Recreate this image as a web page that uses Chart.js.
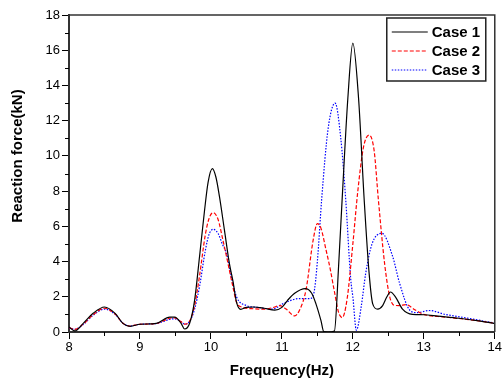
<!DOCTYPE html>
<html>
<head>
<meta charset="utf-8">
<script src="https://cdn.jsdelivr.net/npm/chart.js@4/dist/chart.umd.min.js"></script>
<style>
  html, body { margin: 0; padding: 0; background: #fff; }
  #wrap { width: 503px; height: 381px; }
</style>
</head>
<body>
<div id="wrap"><canvas id="forceChart" width="503" height="381"></canvas></div>
<script>
// frequency response of the reaction force, three load cases
const caseLabels = ['Case 1', 'Case 2', 'Case 3'];
const xTicks = [8, 9, 10, 11, 12, 13, 14];
const yTicks = [0, 2, 4, 6, 8, 10, 12, 14, 16, 18];

const case1Freq = [8.0, 8.08, 8.2, 8.34, 8.5, 8.65, 8.76, 8.86, 9.0, 9.23, 9.42, 9.49, 9.58, 9.63, 9.7, 9.77, 9.84, 9.91, 9.96, 10.02, 10.07, 10.12, 10.19, 10.26, 10.31, 10.36, 10.42, 10.5, 10.6, 10.75, 10.9, 11.0, 11.08, 11.18, 11.33, 11.42, 11.48, 11.55, 11.59, 11.65, 11.74, 11.8, 11.85, 11.93, 12.0, 12.08, 12.16, 12.23, 12.28, 12.35, 12.42, 12.48, 12.53, 12.6, 12.7, 12.84, 13.0, 13.2, 13.5, 13.8, 14.0];
const case1Force = [0.28, 0.06, 0.49, 1.06, 1.42, 1.06, 0.49, 0.32, 0.44, 0.49, 0.85, 0.85, 0.49, 0.17, 0.5, 1.8, 4.3, 6.9, 8.5, 9.28, 8.8, 7.7, 5.8, 3.9, 2.9, 1.7, 1.29, 1.4, 1.42, 1.35, 1.24, 1.4, 1.8, 2.2, 2.46, 2.2, 1.6, 0.66, 0.02, 0, 0.05, 3.8, 7.6, 13.3, 16.4, 13.3, 7.5, 3.3, 1.6, 1.3, 1.5, 2.0, 2.27, 2.0, 1.3, 1.0, 0.98, 0.9, 0.78, 0.62, 0.48];

const case2Freq = [8.0, 8.08, 8.2, 8.34, 8.5, 8.65, 8.76, 8.86, 9.0, 9.23, 9.42, 9.49, 9.58, 9.63, 9.7, 9.77, 9.84, 9.92, 9.97, 10.03, 10.1, 10.17, 10.24, 10.31, 10.36, 10.45, 10.6, 10.75, 10.87, 10.97, 11.06, 11.18, 11.25, 11.34, 11.44, 11.5, 11.55, 11.62, 11.68, 11.74, 11.8, 11.85, 11.92, 12.0, 12.07, 12.15, 12.23, 12.3, 12.36, 12.45, 12.52, 12.58, 12.65, 12.75, 12.88, 13.0, 13.3, 13.6, 14.0];
const case2Force = [0.25, 0.15, 0.45, 0.98, 1.35, 1.02, 0.5, 0.34, 0.44, 0.48, 0.78, 0.8, 0.58, 0.45, 0.62, 1.5, 3.2, 5.5, 6.4, 6.78, 6.4, 5.2, 3.9, 2.56, 1.7, 1.4, 1.32, 1.3, 1.38, 1.5, 1.3, 0.92, 1.25, 2.4, 5.2, 6.15, 5.9, 4.7, 3.6, 2.3, 1.1, 0.82, 1.9, 5.0, 8.0, 10.5, 11.18, 10.3, 7.5, 3.8, 2.0, 1.52, 1.5, 1.55, 1.25, 1.0, 0.85, 0.72, 0.5];

const case3Freq = [8.0, 8.08, 8.2, 8.34, 8.5, 8.65, 8.76, 8.86, 9.0, 9.23, 9.42, 9.49, 9.58, 9.63, 9.7, 9.77, 9.84, 9.92, 9.97, 10.03, 10.1, 10.16, 10.22, 10.29, 10.36, 10.5, 10.65, 10.87, 11.01, 11.25, 11.39, 11.45, 11.5, 11.56, 11.65, 11.75, 11.83, 11.9, 11.97, 12.0, 12.05, 12.12, 12.18, 12.27, 12.41, 12.56, 12.66, 12.8, 12.9, 13.08, 13.3, 13.6, 14.0];
const case3Force = [0.25, 0.15, 0.42, 0.95, 1.3, 1.0, 0.5, 0.34, 0.44, 0.48, 0.72, 0.75, 0.58, 0.45, 0.6, 1.3, 2.6, 4.6, 5.5, 5.83, 5.6, 5.0, 4.45, 3.1, 2.0, 1.5, 1.4, 1.3, 1.6, 1.9, 1.9, 2.2, 4.0, 7.5, 11.5, 13.0, 11.0, 7.5, 3.0, 2.0, 0.1, 1.5, 3.3, 5.0, 5.6, 4.3, 2.75, 1.25, 1.1, 1.22, 1.0, 0.8, 0.5];

const lineColors = ['#000000', '#ff0000', '#0000ff'];
const lineDashes = [[], [4, 2], [1.5, 1.5]];

const FONT = 'Arial, "Liberation Sans", sans-serif';

function toPoints(xs, ys) {
  return xs.map((x, i) => ({ x: x, y: ys[i] }));
}

const seriesX = [case1Freq, case2Freq, case3Freq];
const seriesY = [case1Force, case2Force, case3Force];

const datasets = caseLabels.map((label, i) => ({
  label: label,
  data: toPoints(seriesX[i], seriesY[i]),
  borderColor: lineColors[i],
  borderDash: lineDashes[i],
  borderWidth: 1.2,
  pointRadius: 0,
  fill: false,
  cubicInterpolationMode: 'monotone'
}));

// short minor ticks, frame, y title and boxed legend
const decorations = {
  id: 'decorations',
  afterDraw(chart) {
    const ctx = chart.ctx;
    const area = chart.chartArea;
    const xs = chart.scales.x;
    const ys = chart.scales.y;
    ctx.save();

    // minor ticks
    ctx.strokeStyle = '#000';
    ctx.lineWidth = 1;
    ctx.beginPath();
    for (let i = 0; i < xTicks.length - 1; i++) {
      const px = Math.round(xs.getPixelForValue(xTicks[i] + 0.5)) + 0.5;
      ctx.moveTo(px, area.bottom);
      ctx.lineTo(px, area.bottom + 4);
    }
    for (let i = 0; i < yTicks.length - 1; i++) {
      const py = Math.round(ys.getPixelForValue(yTicks[i] + 1)) + 0.5;
      ctx.moveTo(area.left - 4, py);
      ctx.lineTo(area.left, py);
    }
    ctx.stroke();

    // top and right frame lines
    ctx.strokeStyle = '#333';
    ctx.lineWidth = 1.5;
    ctx.beginPath();
    ctx.moveTo(area.left, area.top);
    ctx.lineTo(area.right, area.top);
    ctx.lineTo(area.right, area.bottom);
    ctx.stroke();

    // y axis title
    ctx.fillStyle = '#000';
    ctx.font = 'bold 15px ' + FONT;
    ctx.textAlign = 'center';
    ctx.textBaseline = 'middle';
    ctx.translate(18, 156);
    ctx.rotate(-Math.PI / 2);
    ctx.fillText('Reaction force(kN)', 0, 0);
    ctx.setTransform(1, 0, 0, 1, 0, 0);

    // legend box
    const bx = area.right - 108, by = area.top + 3, bw = 99, bh = 63;
    ctx.fillStyle = '#fff';
    ctx.fillRect(bx, by, bw, bh);
    ctx.strokeStyle = '#222';
    ctx.lineWidth = 1.5;
    ctx.strokeRect(bx, by, bw, bh);
    chart.data.datasets.forEach((ds, i) => {
      const ry = by + 14 + i * 19;
      ctx.strokeStyle = ds.borderColor;
      ctx.lineWidth = 1.2;
      ctx.setLineDash(ds.borderDash);
      ctx.beginPath();
      ctx.moveTo(bx + 5, ry);
      ctx.lineTo(bx + 41, ry);
      ctx.stroke();
      ctx.setLineDash([]);
      ctx.fillStyle = '#000';
      ctx.font = 'bold 15px ' + FONT;
      ctx.textAlign = 'left';
      ctx.textBaseline = 'middle';
      ctx.fillText(ds.label, bx + 45, ry + 1);
    });
    ctx.restore();
  }
};

new Chart(document.getElementById('forceChart'), {
  type: 'line',
  data: { datasets: datasets },
  plugins: [decorations],
  options: {
    responsive: false,
    animation: false,
    devicePixelRatio: 1,
    layout: { padding: { top: 15, right: 7, left: 0, bottom: 0 } },
    plugins: {
      legend: { display: false },
      tooltip: { enabled: false }
    },
    scales: {
      x: {
        type: 'linear',
        min: xTicks[0],
        max: xTicks[xTicks.length - 1],
        afterBuildTicks: (scale) => { scale.ticks = xTicks.map(v => ({ value: v })); },
        afterFit: (scale) => { scale.height = 49; },
        ticks: { color: '#000', font: { family: FONT, size: 13 }, padding: 1, maxRotation: 0 },
        grid: { drawOnChartArea: false, drawTicks: true, tickLength: 7, tickColor: '#000', tickWidth: 1 },
        border: { display: true, color: '#333', width: 2 },
        title: {
          display: true,
          text: 'Frequency(Hz)',
          color: '#000',
          font: { family: FONT, size: 15, weight: 'bold' },
          padding: { top: 0, bottom: 1 }
        }
      },
      y: {
        min: yTicks[0],
        max: yTicks[yTicks.length - 1],
        afterBuildTicks: (scale) => { scale.ticks = yTicks.map(v => ({ value: v })); },
        afterFit: (scale) => { scale.width = 69; },
        ticks: { color: '#000', font: { family: FONT, size: 13 }, padding: 2 },
        grid: { drawOnChartArea: false, drawTicks: true, tickLength: 7, tickColor: '#000', tickWidth: 1 },
        border: { display: true, color: '#333', width: 2 }
      }
    }
  }
});
</script>
</body>
</html>
